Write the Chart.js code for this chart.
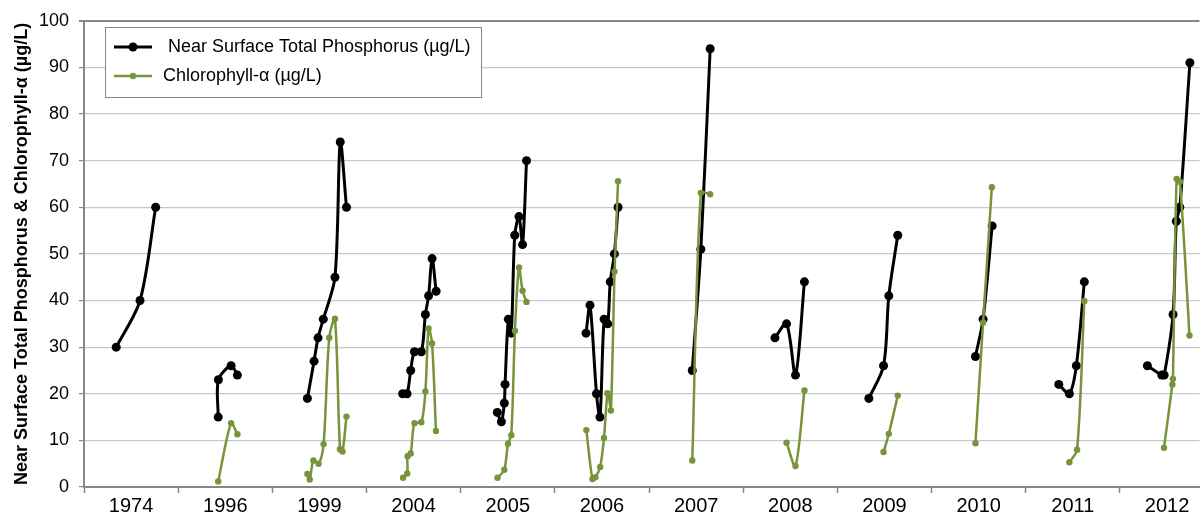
<!DOCTYPE html>
<html>
<head>
<meta charset="utf-8">
<title>Near Surface Total Phosphorus &amp; Chlorophyll-α</title>
<script src="https://cdn.jsdelivr.net/npm/chart.js@4.4.1/dist/chart.umd.min.js"></script>
<style>
  html, body { margin: 0; padding: 0; background: #fff; overflow: hidden; }
  #wrap { width: 1204px; height: 516px; }
</style>
</head>
<body>
<div id="wrap"><canvas id="chart" width="1204" height="516"></canvas></div>
<script>

// sampling years (one band each on the x axis)
var years = ['1974', '1996', '1999', '2004', '2005', '2006', '2007', '2008', '2009', '2010', '2011', '2012'];

// position of each sample inside its year band (0..1)
var tpPos = [
    [0.342, 0.595, 0.761],
    [0.425, 0.427, 0.562, 0.629],
    [0.372, 0.443, 0.485, 0.541, 0.665, 0.721, 0.787],
    [0.384, 0.430, 0.469, 0.509, 0.582, 0.625, 0.659, 0.696, 0.739],
    [0.389, 0.432, 0.463, 0.471, 0.506, 0.537, 0.574, 0.619, 0.657, 0.699],
    [0.331, 0.373, 0.442, 0.479, 0.523, 0.561, 0.588, 0.632, 0.671],
    [0.459, 0.550, 0.649],
    [0.337, 0.460, 0.555, 0.650],
    [0.334, 0.490, 0.546, 0.641],
    [0.466, 0.547, 0.643],
    [0.351, 0.463, 0.537, 0.622],
    [0.292, 0.444, 0.470, 0.564, 0.599, 0.636, 0.743]
];
var tpVals = [
    [30, 40, 60],
    [15, 23, 26, 24],
    [19, 27, 32, 36, 45, 74, 60],
    [20, 20, 25, 29, 29, 37, 41, 49, 42],
    [16, 14, 18, 22, 36, 33, 54, 58, 52, 70],
    [33, 39, 20, 15, 36, 35, 44, 50, 60],
    [25, 51, 94],
    [32, 35, 24, 44],
    [19, 26, 41, 54],
    [28, 36, 56],
    [22, 20, 26, 44],
    [26, 24, 24, 37, 57, 60, 91]
];

var chlPos = [
    [],
    [0.425, 0.562, 0.629],
    [0.372, 0.397, 0.436, 0.491, 0.544, 0.604, 0.665, 0.718, 0.745, 0.787],
    [0.388, 0.432, 0.436, 0.469, 0.509, 0.582, 0.625, 0.659, 0.696, 0.737],
    [0.391, 0.463, 0.502, 0.537, 0.576, 0.619, 0.657, 0.699],
    [0.334, 0.399, 0.431, 0.481, 0.521, 0.558, 0.574, 0.595, 0.634, 0.671],
    [0.459, 0.550, 0.649],
    [0.460, 0.555, 0.650],
    [0.490, 0.546, 0.641],
    [0.466, 0.547, 0.640],
    [0.463, 0.545, 0.622],
    [0.468, 0.557, 0.563, 0.602, 0.637, 0.739]
];
var chlVals = [
    [],
    [1.2, 13.7, 11.3],
    [2.8, 1.6, 5.7, 5.0, 9.2, 32, 36.1, 8.1, 7.6, 15.1],
    [2.0, 2.9, 6.6, 7.2, 13.7, 13.9, 20.5, 34, 30.8, 12],
    [2.0, 3.7, 9.3, 11.1, 33.5, 47.1, 42.1, 39.7],
    [12.2, 1.7, 2.1, 4.3, 10.5, 20.1, 19.3, 16.4, 46.2, 65.6],
    [5.7, 63.1, 62.8],
    [9.5, 4.5, 20.7],
    [7.5, 11.4, 19.6],
    [9.4, 35.3, 64.3],
    [5.3, 8.0, 39.9],
    [8.4, 22.0, 23.2, 66.1, 65.5, 32.5]
];

var yTicks = [0, 10, 20, 30, 40, 50, 60, 70, 80, 90, 100];

var FONT = '"Liberation Sans", Arial, Helvetica, sans-serif';
var axisGray = '#878787';
var gridGray = '#c8c8c8';
var green = '#77933c';
var xMax = 11.845; // the plot runs off the right edge of the picture

// one point per sample, with a null between years so the line breaks
function buildSeries(pos, vals) {
    var out = [];
    years.forEach(function (yr, i) {
        pos[i].forEach(function (p, j) {
            out.push({ x: i + p, y: vals[i][j] });
        });
        out.push({ x: i + 1, y: null });
    });
    return out;
}

// legend box drawn inside the plot, like the spreadsheet one
var boxLegend = {
    id: 'boxLegend',
    afterDraw: function (chart) {
        var ctx = chart.ctx;
        var sets = chart.data.datasets;
        var left = 105, top = 27, w = 376, h = 70;
        ctx.save();
        ctx.fillStyle = '#fff';
        ctx.fillRect(left, top, w, h);
        ctx.strokeStyle = axisGray;
        ctx.lineWidth = 1;
        ctx.strokeRect(left + 0.5, top + 0.5, w, h);

        var rows = [47, 76];
        sets.forEach(function (ds, i) {
            var y = rows[i];
            ctx.strokeStyle = ds.borderColor;
            ctx.lineWidth = ds.borderWidth;
            ctx.beginPath();
            ctx.moveTo(114, y);
            ctx.lineTo(152, y);
            ctx.stroke();
            ctx.fillStyle = ds.pointBackgroundColor;
            ctx.beginPath();
            ctx.arc(133, y, ds.pointRadius, 0, Math.PI * 2);
            ctx.fill();
            ctx.fillStyle = '#000';
            ctx.font = '18px ' + FONT;
            ctx.textBaseline = 'middle';
            ctx.fillText(ds.label, 163, y);
        });
        ctx.restore();
    }
};

var chart = new Chart(document.getElementById('chart'), {
    type: 'line',
    data: {
        datasets: [{
            label: ' Near Surface Total Phosphorus (µg/L)',
            data: buildSeries(tpPos, tpVals),
            borderColor: '#000',
            backgroundColor: '#000',
            pointBackgroundColor: '#000',
            pointBorderColor: '#000',
            borderWidth: 3,
            pointRadius: 4.5,
            pointBorderWidth: 0,
            tension: 0.3,
            spanGaps: false,
            order: 1
        }, {
            label: 'Chlorophyll-α (µg/L)',
            data: buildSeries(chlPos, chlVals),
            borderColor: green,
            backgroundColor: green,
            pointBackgroundColor: green,
            pointBorderColor: green,
            borderWidth: 2.5,
            pointRadius: 3.2,
            pointBorderWidth: 0,
            tension: 0.3,
            spanGaps: false,
            order: 0
        }]
    },
    options: {
        responsive: false,
        animation: false,
        devicePixelRatio: 1,
        layout: { padding: { top: 18, right: 0, bottom: 0, left: 0 } },
        plugins: {
            legend: { display: false },
            tooltip: { enabled: false }
        },
        scales: {
            x: {
                type: 'linear',
                min: 0,
                max: xMax,
                afterBuildTicks: function (scale) {
                    var t = [];
                    for (var v = 0; v <= xMax; v += 0.5) t.push({ value: v });
                    scale.ticks = t;
                },
                afterFit: function (scale) { scale.height = 29; },
                border: { color: axisGray, width: 2 },
                grid: {
                    drawOnChartArea: false,
                    drawTicks: true,
                    tickLength: 6,
                    tickWidth: 1.5,
                    tickColor: function (c) {
                        return c.tick && c.tick.value % 1 === 0 ? axisGray : 'rgba(0,0,0,0)';
                    }
                },
                ticks: {
                    autoSkip: false,
                    maxRotation: 0,
                    padding: 1,
                    color: '#000',
                    font: { family: FONT, size: 20 },
                    callback: function (v) {
                        return v % 1 === 0 ? '' : years[Math.floor(v)];
                    }
                }
            },
            y: {
                min: 0,
                max: 100,
                afterBuildTicks: function (scale) {
                    scale.ticks = yTicks.map(function (v) { return { value: v }; });
                },
                afterFit: function (scale) { scale.width = 84; },
                border: { color: axisGray, width: 2 },
                grid: {
                    color: function (c) {
                        return c.tick && c.tick.value === 100 ? axisGray : gridGray;
                    },
                    lineWidth: function (c) {
                        return c.tick && c.tick.value === 100 ? 2 : 1.2;
                    },
                    tickLength: 5,
                    tickColor: axisGray
                },
                ticks: {
                    padding: 10,
                    color: '#000',
                    font: { family: FONT, size: 18 }
                },
                title: {
                    display: true,
                    text: 'Near Surface Total Phosphorus & Chlorophyll-α (µg/L)',
                    color: '#000',
                    font: { family: FONT, size: 18, weight: 'bold' },
                    padding: { top: 11, bottom: 0 }
                }
            }
        }
    },
    plugins: [boxLegend]
});

</script>
</body>
</html>
